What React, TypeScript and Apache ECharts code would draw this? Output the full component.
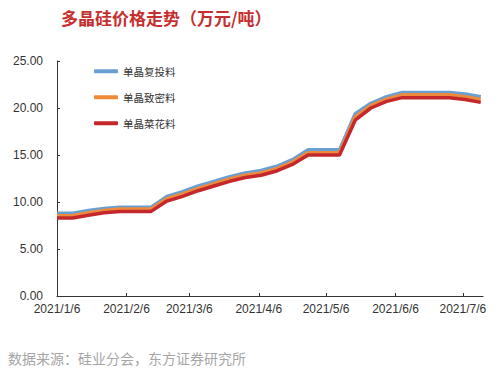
import React, { useEffect, useRef } from "react";
import * as echarts from "echarts";

const weekDates = [
  "2021/1/6", "2021/1/13", "2021/1/20", "2021/1/27", "2021/2/3", "2021/2/10", "2021/2/17",
  "2021/2/24", "2021/3/3", "2021/3/10", "2021/3/17", "2021/3/24", "2021/3/31", "2021/4/7",
  "2021/4/14", "2021/4/21", "2021/4/28", "2021/5/5", "2021/5/12", "2021/5/19", "2021/5/26",
  "2021/6/2", "2021/6/9", "2021/6/16", "2021/6/23", "2021/6/30", "2021/7/7", "2021/7/14",
];
const fuTou = [8.8, 8.8, 9.1, 9.3, 9.45, 9.45, 9.45, 10.6, 11.1, 11.7, 12.2, 12.7, 13.1, 13.35, 13.8, 14.5, 15.55, 15.55, 15.55, 19.4, 20.5, 21.2, 21.65, 21.65, 21.65, 21.65, 21.5, 21.2];
const zhiMi = [8.55, 8.55, 8.85, 9.1, 9.25, 9.25, 9.25, 10.35, 10.85, 11.45, 11.95, 12.45, 12.85, 13.1, 13.55, 14.25, 15.25, 15.25, 15.25, 19.05, 20.25, 20.95, 21.4, 21.4, 21.4, 21.4, 21.2, 20.9];
const caiHua = [8.3, 8.3, 8.6, 8.85, 9.0, 9.0, 9.0, 10.1, 10.6, 11.2, 11.7, 12.2, 12.6, 12.85, 13.3, 14.0, 15.0, 15.0, 15.0, 18.7, 20.0, 20.7, 21.1, 21.1, 21.1, 21.1, 20.9, 20.6];
const seriesNames = ["单晶复投料", "单晶致密料", "单晶菜花料"];
const yTicks = { min: 0, max: 25, interval: 5 };
const axisStart = "2021/1/6";
const axisEnd = "2021/7/15";

function fmt(d: Date) {
  return `${d.getFullYear()}/${d.getMonth() + 1}/${d.getDate()}`;
}

function buildDays(): string[] {
  const [y0, m0, d0] = axisStart.split("/").map(Number);
  const [y1, m1, d1] = axisEnd.split("/").map(Number);
  const s = new Date(y0, m0 - 1, d0, 12);
  const e = new Date(y1, m1 - 1, d1, 12);
  const out: string[] = [];
  for (let t = new Date(s); t <= e; t.setDate(t.getDate() + 1)) out.push(fmt(t));
  return out;
}

export default function App() {
  const ref = useRef<HTMLDivElement>(null);
  useEffect(() => {
    if (!ref.current) return;
    const chart = echarts.init(ref.current, undefined, { renderer: "svg" });
    const days = buildDays();
    const toDaily = (vals: number[]) => {
      const map = new Map<string, number>();
      weekDates.forEach((d, i) => map.set(d, vals[i]));
      return days.map((d) => (map.has(d) ? map.get(d)! : null));
    };
    const showSixth = (_i: number, v: string) => v.endsWith("/6");
    const font = '"Liberation Sans", Arial, "Noto Sans CJK SC", sans-serif';
    const colors = ["#6b9fd2", "#ef8a3b", "#c4282d"];
    chart.setOption({
      animation: false,
      color: colors,
      title: {
        text: "多晶硅价格走势（万元/吨）",
        left: 56,
        top: 4,
        textStyle: { color: "#c62f2f", fontSize: 17, fontWeight: "bold", fontFamily: '"Noto Sans CJK SC", sans-serif' },
      },
      legend: {
        orient: "vertical",
        left: 89,
        top: 61,
        itemWidth: 24,
        itemHeight: 4,
        itemGap: 15.5,
        icon: "roundRect",
        textStyle: { fontSize: 10.5, color: "#333", fontFamily: '"Noto Sans CJK SC", sans-serif' },
        data: seriesNames,
      },
      grid: { left: 57, right: 17, top: 61, bottom: 78, containLabel: false },
      xAxis: {
        type: "category",
        boundaryGap: false,
        data: days,
        axisLine: { lineStyle: { color: "#333", width: 1 } },
        axisTick: { inside: true, length: 3, interval: showSixth, lineStyle: { color: "#333" } },
        axisLabel: { interval: showSixth, fontSize: 12, color: "#333", margin: 7, fontFamily: font },
        splitLine: { show: false },
      },
      yAxis: {
        type: "value",
        min: yTicks.min,
        max: yTicks.max,
        interval: yTicks.interval,
        axisLine: { show: true, lineStyle: { color: "#333", width: 1 } },
        axisTick: { show: true, inside: true, length: 3, lineStyle: { color: "#333" } },
        axisLabel: { fontSize: 12, color: "#333", margin: 14, fontFamily: font, formatter: (v: number) => v.toFixed(2) },
        splitLine: { show: false },
      },
      graphic: [
        {
          type: "text",
          left: 8,
          top: 351,
          style: { text: "数据来源：硅业分会，东方证券研究所", fontSize: 14, fill: "#a6a6a6", fontFamily: '"Noto Sans CJK SC", sans-serif' },
        },
      ],
      series: [fuTou, zhiMi, caiHua].map((vals, i) => ({
        name: seriesNames[i],
        type: "line",
        data: toDaily(vals),
        connectNulls: true,
        showSymbol: false,
        symbol: "none",
        lineStyle: { width: 3.5, color: colors[i] },
        itemStyle: { color: colors[i] },
      })),
    });
    return () => chart.dispose();
  }, []);
  return <div ref={ref} style={{ width: 500, height: 374, position: "absolute", left: 0, top: 0, background: "#fff" }} />;
}
